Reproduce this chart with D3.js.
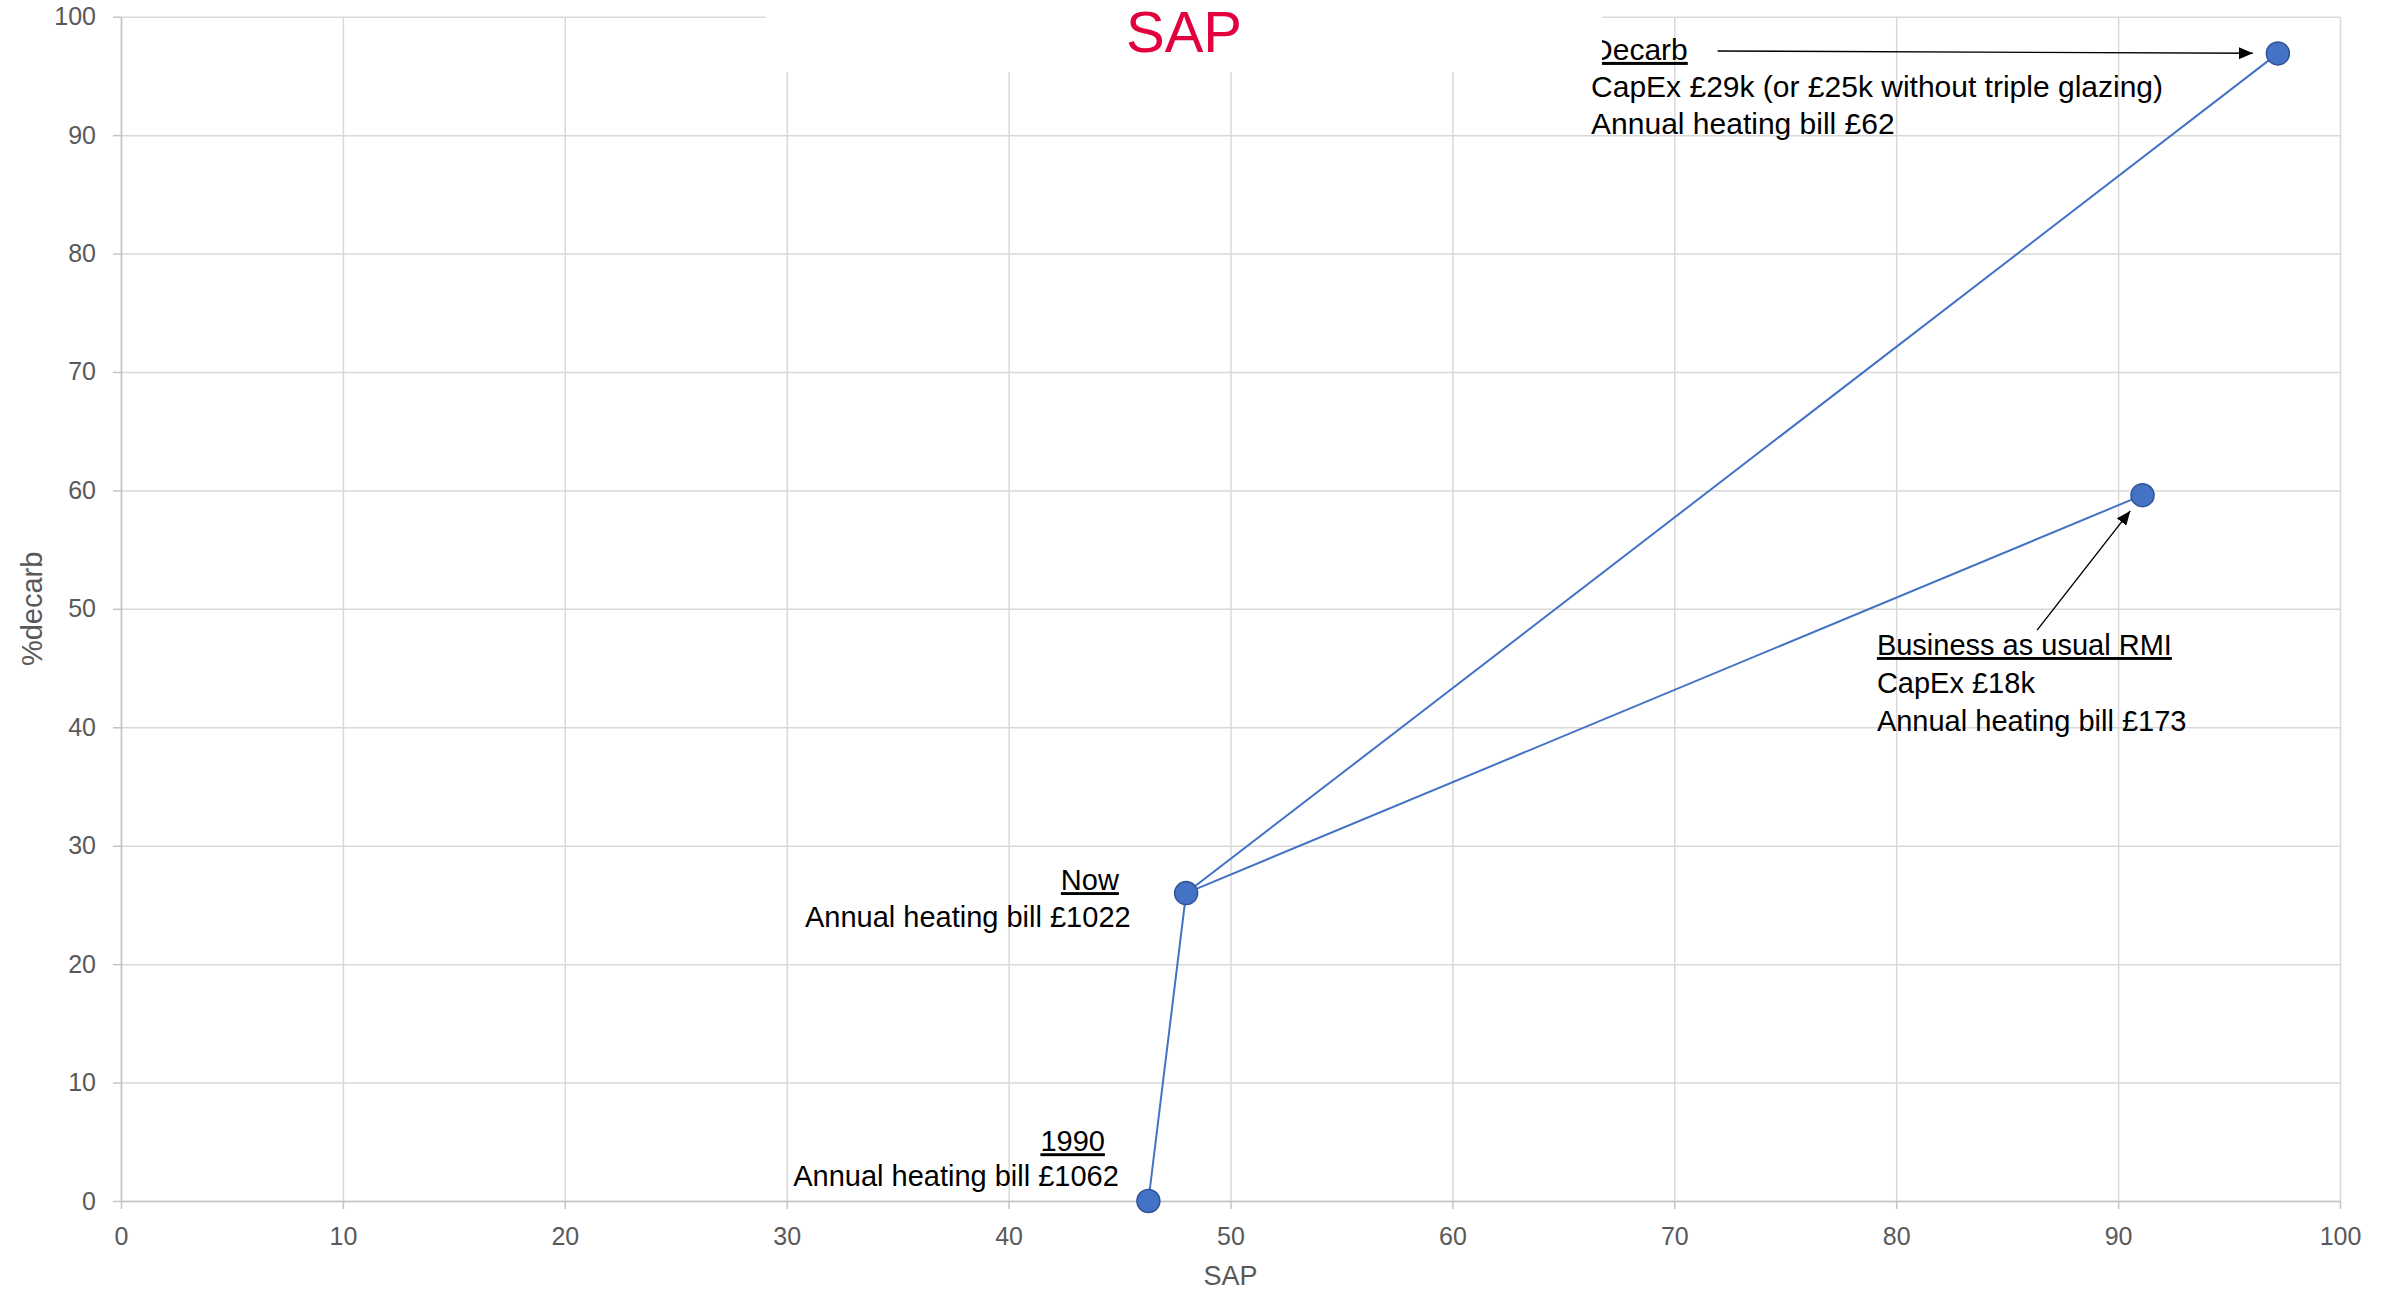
<!DOCTYPE html>
<html>
<head>
<meta charset="utf-8">
<script src="https://cdn.jsdelivr.net/npm/d3@7"></script>
<style>
  html, body { margin: 0; padding: 0; background: #ffffff; }
  svg { display: block; font-family: "Liberation Sans", Arial, sans-serif; }
</style>
</head>
<body>
<svg id="chart" width="2392" height="1291"></svg>
<script>
// Scenario points: SAP rating against % decarbonisation
const pointNames = ["1990", "Now", "Business as usual RMI", "Decarb"];
const sapValues = [46.3, 48.0, 91.1, 97.2];
const decarbValues = [0, 26.0, 59.6, 96.9];

// Connecting paths between scenarios (indices into the arrays above)
const pathwayDecarb = [0, 1, 3];
const pathwayBau = [1, 2];

// Axis ticks
const xTicks = [0, 10, 20, 30, 40, 50, 60, 70, 80, 90, 100];
const yTicks = [0, 10, 20, 30, 40, 50, 60, 70, 80, 90, 100];

// Annotation text
const decarbLines = ["Decarb", "CapEx £29k (or £25k without triple glazing)", "Annual heating bill £62"];
const bauLines = ["Business as usual RMI", "CapEx £18k", "Annual heating bill £173"];
const nowLines = ["Now", "Annual heating bill £1022"];
const baseLines = ["1990", "Annual heating bill £1062"];

const chartTitle = "SAP";
const xTitle = "SAP";
const yTitle = "%decarb";

(function draw() {
  const svg = d3.select("#chart");
  const plotL = 121, plotR = 2340, plotT = 16.7, plotB = 1201;

  const x = d3.scaleLinear().domain([0, 100]).range([plotL, plotR]);
  const y = d3.scaleLinear().domain([0, 100]).range([plotB, plotT]);

  const gridColor = "#d9d9d9";
  const axisColor = "#c4c4c4";
  const tickText = "#595959";

  // Vertical gridlines
  const gx = svg.append("g")
    .attr("transform", `translate(0,${plotB})`)
    .call(d3.axisBottom(x).tickValues(xTicks).tickSize(-(plotB - plotT)).tickFormat(""));
  gx.select(".domain").remove();
  gx.selectAll("line").attr("stroke", gridColor).attr("stroke-width", 1.5);

  // Horizontal gridlines
  const gy = svg.append("g")
    .attr("transform", `translate(${plotL},0)`)
    .call(d3.axisLeft(y).tickValues(yTicks).tickSize(-(plotR - plotL)).tickFormat(""));
  gy.select(".domain").remove();
  gy.selectAll("line").attr("stroke", gridColor).attr("stroke-width", 1.5);

  // X axis with outside ticks and labels
  const ax = svg.append("g")
    .attr("transform", `translate(0,${plotB})`)
    .call(d3.axisBottom(x).tickValues(xTicks).tickSize(8).tickSizeOuter(0).tickPadding(18).tickFormat(d3.format("d")));
  ax.select(".domain").attr("stroke", axisColor).attr("stroke-width", 1.5);
  ax.selectAll("line").attr("stroke", axisColor).attr("stroke-width", 1.5);
  ax.selectAll("text").attr("fill", tickText).attr("font-size", 25)
    .attr("font-family", "Liberation Sans, Arial, sans-serif");

  // Y axis with outside ticks and labels
  const ay = svg.append("g")
    .attr("transform", `translate(${plotL},0)`)
    .call(d3.axisLeft(y).tickValues(yTicks).tickSize(8).tickSizeOuter(0).tickPadding(17).tickFormat(d3.format("d")));
  ay.select(".domain").attr("stroke", axisColor).attr("stroke-width", 1.5);
  ay.selectAll("line").attr("stroke", axisColor).attr("stroke-width", 1.5);
  ay.selectAll("text").attr("fill", tickText).attr("font-size", 25)
    .attr("font-family", "Liberation Sans, Arial, sans-serif");

  // Axis titles
  svg.append("text")
    .attr("x", (plotL + plotR) / 2).attr("y", 1285)
    .attr("text-anchor", "middle").attr("font-size", 27).attr("fill", tickText)
    .text(xTitle);

  svg.append("text")
    .attr("transform", `translate(42,${(plotT + plotB) / 2}) rotate(-90)`)
    .attr("text-anchor", "middle").attr("font-size", 29).attr("fill", tickText)
    .text(yTitle);

  // Arrowhead
  svg.append("defs").append("marker")
    .attr("id", "arrow").attr("markerUnits", "userSpaceOnUse")
    .attr("viewBox", "0 0 14 12").attr("refX", 14).attr("refY", 6)
    .attr("markerWidth", 14).attr("markerHeight", 12).attr("orient", "auto")
    .append("path").attr("d", "M0,0 L14,6 L0,12 Z").attr("fill", "#000");

  // Scenario pathways
  const line = d3.line().x(i => x(sapValues[i])).y(i => y(decarbValues[i]));
  [pathwayDecarb, pathwayBau].forEach(p => {
    svg.append("path").datum(p).attr("d", line)
      .attr("fill", "none").attr("stroke", "#4472C4").attr("stroke-width", 2);
  });

  // Scenario markers
  svg.append("g").selectAll("circle").data(pointNames).join("circle")
    .attr("cx", (d, i) => x(sapValues[i]))
    .attr("cy", (d, i) => y(decarbValues[i]))
    .attr("r", 11.5)
    .attr("fill", "#4472C4").attr("stroke", "#2F5597").attr("stroke-width", 1.5);

  // Text blocks; first line underlined as the heading
  function textBlock(lines, px, py, spacing, anchor, size) {
    const g = svg.append("g").attr("font-size", size).attr("fill", "#000");
    lines.forEach((t, k) => {
      g.append("text")
        .attr("x", Array.isArray(px) ? px[k] : px)
        .attr("y", py + k * spacing)
        .attr("text-anchor", anchor)
        .attr("text-decoration", k === 0 ? "underline" : null)
        .text(t);
    });
  }

  // Arrow pointing at a scenario marker, stopping short of it
  function arrowTo(fromSap, fromDecarb, idx, gap) {
    const x0 = x(fromSap), y0 = y(fromDecarb);
    const x1 = x(sapValues[idx]), y1 = y(decarbValues[idx]);
    const len = Math.hypot(x1 - x0, y1 - y0);
    const xe = x1 - (x1 - x0) / len * gap, ye = y1 - (y1 - y0) / len * gap;
    svg.append("line")
      .attr("x1", x0).attr("y1", y0).attr("x2", xe).attr("y2", ye)
      .attr("stroke", "#000").attr("stroke-width", 1.4)
      .attr("marker-end", "url(#arrow)");
  }

  textBlock(decarbLines, x(66.25), y(96.35), 37, "start", 30);
  arrowTo(71.95, 97.1, 3, 25);

  textBlock(bauLines, x(79.13), y(46.1), 38, "start", 29);
  arrowTo(86.35, 48.2, 2, 20);

  textBlock(nowLines, [x(44.97), x(45.5)], y(26.25), 37, "end", 29);
  textBlock(baseLines, [x(44.34), x(44.97)], y(4.2), 35, "end", 29);

  // Title panel sits over the upper edge of the plot
  const titleBox = { x0: 766, x1: 1602, h: 72 };
  svg.append("rect")
    .attr("x", titleBox.x0).attr("y", 0)
    .attr("width", titleBox.x1 - titleBox.x0).attr("height", titleBox.h)
    .attr("fill", "#ffffff");
  svg.append("text")
    .attr("x", (titleBox.x0 + titleBox.x1) / 2).attr("y", 52)
    .attr("text-anchor", "middle").attr("font-size", 58).attr("fill", "#E2003D")
    .text(chartTitle);
})();
</script>
</body>
</html>
